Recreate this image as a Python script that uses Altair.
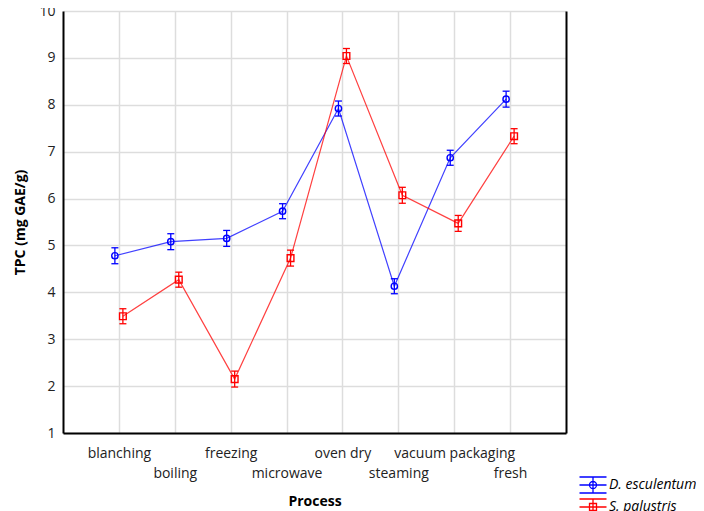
import altair as alt
import pandas as pd

processes = ["blanching", "boiling", "freezing", "microwave", "oven dry",
             "steaming", "vacuum packaging", "fresh"]
species = ["D. esculentum", "S. palustris"]
colors = ["#0000ff", "#ff0000"]

d_mean = [4.78, 5.08, 5.15, 5.73, 7.92, 4.13, 6.87, 8.12]
d_err = [0.17, 0.17, 0.17, 0.16, 0.16, 0.16, 0.16, 0.17]
s_mean = [3.49, 4.27, 2.15, 4.73, 9.04, 6.07, 5.47, 7.33]
s_err = [0.16, 0.16, 0.17, 0.17, 0.16, 0.17, 0.17, 0.16]

rows = []
for sp, means, errs in [(species[0], d_mean, d_err), (species[1], s_mean, s_err)]:
    for p, m, e in zip(processes, means, errs):
        rows.append({"process": p, "species": sp, "mean": m, "lo": m - e, "hi": m + e})
df = pd.DataFrame(rows)

FONT = "Open Sans"
odd_labels = processes[1::2]
label_expr = ("indexof(" + str(odd_labels).replace('"', "'") +
              ", datum.value) >= 0 ? ['', datum.value] : datum.value")

xaxis = alt.Axis(title="Process", labelExpr=label_expr, labelAngle=0,
                 labelOverlap=False, labelBound=False, labelLimit=0,
                 labelLineHeight=20, labelPadding=13, ticks=False,
                 domainColor="black", domainWidth=2, grid=True,
                 gridColor="#dddddd", gridWidth=1.5,
                 labelFont=FONT, labelFontSize=14, labelColor="#222222",
                 titleFont=FONT, titleFontSize=14, titleFontWeight="bold",
                 titleColor="black", titlePadding=14)
X = alt.X("process:N", sort=processes,
          scale=alt.Scale(type="point", domain=processes, padding=1), axis=xaxis)

yscale = alt.Scale(domain=[1, 10], nice=False, zero=False)
yaxis_left = alt.Axis(title="TPC (mg GAE/g)", values=list(range(1, 11)),
                      ticks=False, labelPadding=8, domainColor="black",
                      domainWidth=2, grid=True, gridColor="#dddddd",
                      gridWidth=1.5, labelFont=FONT, labelFontSize=14,
                      labelColor="#222222", titleFont=FONT, titleFontSize=14,
                      titleFontWeight="bold", titleColor="black",
                      titlePadding=11)
yaxis_right = alt.Axis(orient="right", title=None, labels=False, ticks=False,
                       grid=False, domainColor="black", domainWidth=2)

layers = []
for i, sp in enumerate(species):
    off = -4 if i == 0 else 4
    col = colors[i]
    shape = "circle" if i == 0 else "square"
    size = 40 if i == 0 else 45
    base = alt.Chart(df).transform_filter(alt.datum.species == sp)
    yax = yaxis_left if i == 0 else yaxis_right
    line = base.mark_line(color=col, strokeWidth=1.2, opacity=0.75, xOffset=off).encode(
        x=X, y=alt.Y("mean:Q", scale=yscale, axis=yax))
    rule = base.mark_rule(color=col, strokeWidth=1.3, xOffset=off).encode(
        x=X, y=alt.Y("lo:Q", scale=yscale, axis=None), y2="hi:Q")
    cap_lo = base.mark_point(shape="stroke", color=col, size=49, strokeWidth=1.3,
                             xOffset=off, opacity=1).encode(
        x=X, y=alt.Y("lo:Q", scale=yscale, axis=None))
    cap_hi = base.mark_point(shape="stroke", color=col, size=49, strokeWidth=1.3,
                             xOffset=off, opacity=1).encode(
        x=X, y=alt.Y("hi:Q", scale=yscale, axis=None))
    pts = base.mark_point(shape=shape, color=col, size=size, strokeWidth=1.4,
                          filled=False, xOffset=off, opacity=1).encode(
        x=X, y=alt.Y("mean:Q", scale=yscale, axis=None))
    layers += [line, rule, cap_lo, cap_hi, pts]

circle_path = ("M-1.35,0H1.35M0,-0.8V0.8M-1.35,-0.8H1.35M-1.35,0.8H1.35"
               "M-0.35,0A0.35,0.35 0 1,0 0.35,0A0.35,0.35 0 1,0 -0.35,0")
square_path = ("M-1.35,0H1.35M0,-0.8V0.8M-1.35,-0.8H1.35M-1.35,0.8H1.35"
               "M-0.35,-0.35H0.35V0.35H-0.35Z")

leg = alt.Legend(title=None, orient="none", legendX=519, legendY=463)
legend_layer = alt.Chart(df).transform_filter("false").mark_point(
    filled=False, strokeWidth=1.3, size=400, opacity=1).encode(
    color=alt.Color("species:N", scale=alt.Scale(domain=species, range=colors),
                    legend=leg),
    shape=alt.Shape("species:N", scale=alt.Scale(domain=species,
                                                 range=[circle_path, square_path]),
                    legend=leg),
)
layers.append(legend_layer)

chart = alt.layer(*layers).resolve_axis(y="independent").properties(
    width=503, height=422,
    autosize=alt.AutoSizeParams(type="none"),
    padding={"left": 55, "top": 3, "right": 130, "bottom": 80},
).configure_view(stroke=None).configure_legend(
    labelFont=FONT, labelFontSize=14, labelFontStyle="italic",
    labelColor="black", symbolSize=400, labelOffset=5, rowPadding=0,
    symbolStrokeWidth=1.3, padding=0,
)

chart.save("out.html", embed_options={"renderer": "svg", "actions": False})
